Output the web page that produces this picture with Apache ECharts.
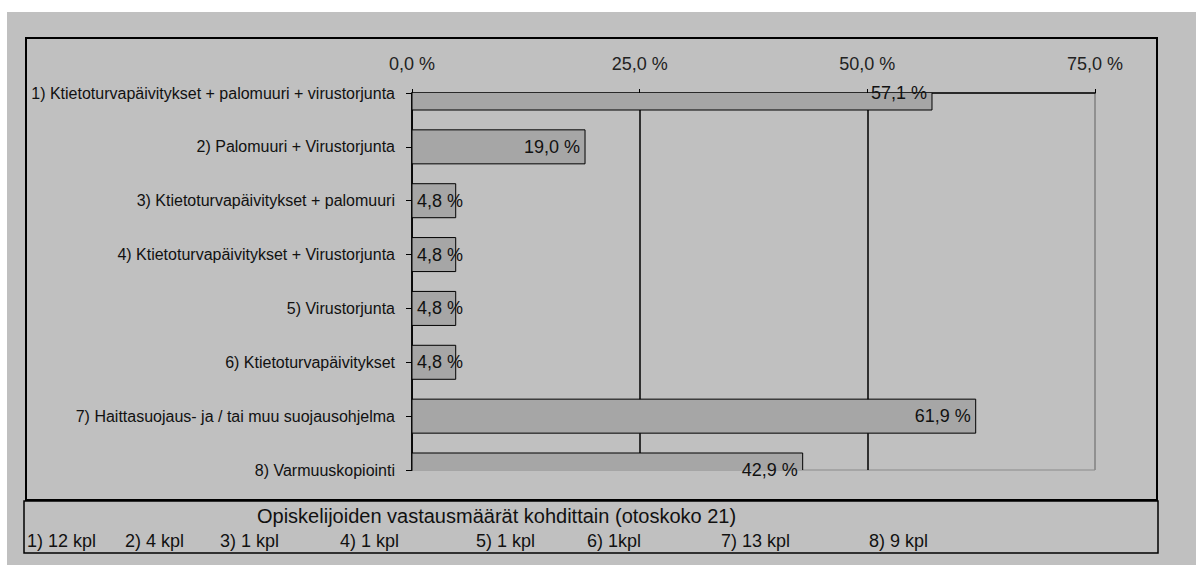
<!DOCTYPE html>
<html>
<head>
<meta charset="utf-8">
<script src="https://cdn.jsdelivr.net/npm/echarts@6/dist/echarts.min.js"></script>
<style>
  html, body { margin: 0; background: #fff; }
  #chart { width: 1196px; height: 565px; }
</style>
</head>
<body>
<div id="chart"></div>
<script>
var categories = [
  '1) Ktietoturvapäivitykset + palomuuri + virustorjunta',
  '2) Palomuuri + Virustorjunta',
  '3) Ktietoturvapäivitykset + palomuuri',
  '4) Ktietoturvapäivitykset + Virustorjunta',
  '5) Virustorjunta',
  '6) Ktietoturvapäivitykset',
  '7) Haittasuojaus- ja / tai muu suojausohjelma',
  '8) Varmuuskopiointi'
];
var percents = [57.1, 19.0, 4.8, 4.8, 4.8, 4.8, 61.9, 42.9];
var xTicks = [0, 25, 50, 75];
var countsTitle = 'Opiskelijoiden vastausmäärät kohdittain (otoskoko 21)';
var counts = ['1) 12 kpl', '2) 4 kpl', '3) 1 kpl', '4) 1 kpl', '5) 1 kpl', '6) 1kpl', '7) 13 kpl', '8) 9 kpl'];

// where each count text starts in the box below the chart
var countX = [27, 125, 220, 340, 476, 587, 721, 869];

var sans = '"Liberation Sans", Arial, sans-serif';
var barH = 34;

function fmt(v) {
  return v.toFixed(1).replace('.', ',') + ' %';
}

var chart = echarts.init(document.getElementById('chart'), null, { renderer: 'svg' });

var graphics = [
  { type: 'rect', z: -10, shape: { x: 7, y: 12, width: 1189, height: 553 }, style: { fill: '#c0c0c0' } },
  { type: 'rect', z: 5, shape: { x: 26, y: 38, width: 1131, height: 462 }, style: { fill: 'none', stroke: '#000', lineWidth: 2 } },
  { type: 'rect', z: 5, shape: { x: 24, y: 501, width: 1134, height: 52 }, style: { fill: 'none', stroke: '#000', lineWidth: 1.5 } },
  { type: 'text', z: 5, x: 257, y: 516, style: { text: countsTitle, font: '20px ' + sans, fill: '#111', verticalAlign: 'middle' } }
];
counts.forEach(function (c, i) {
  graphics.push({ type: 'text', z: 5, x: countX[i], y: 541, style: { text: c, font: '18px ' + sans, fill: '#111', verticalAlign: 'middle' } });
});

chart.setOption({
  animation: false,
  graphic: graphics,
  grid: {
    left: 412, top: 93, right: 101, bottom: 95,
    show: true, borderColor: '#8a8a8a', borderWidth: 1, backgroundColor: 'transparent'
  },
  xAxis: {
    type: 'value',
    position: 'top',
    min: xTicks[0],
    max: xTicks[xTicks.length - 1],
    interval: xTicks[1] - xTicks[0],
    axisLine: { show: true, lineStyle: { color: '#000', width: 1.5 } },
    axisTick: { show: true, length: 4, lineStyle: { color: '#000' } },
    axisLabel: { margin: 20, color: '#222', fontSize: 18, fontFamily: sans, formatter: fmt },
    splitLine: { show: true, lineStyle: { color: ['#000', '#000', '#000', '#8a8a8a'], width: 1.5 } }
  },
  yAxis: {
    type: 'category',
    inverse: true,
    boundaryGap: false,
    data: categories,
    axisLine: { show: true, lineStyle: { color: '#000', width: 1.5 } },
    axisTick: { show: true, length: 6, alignWithLabel: true, lineStyle: { color: '#000' } },
    axisLabel: { margin: 17, color: '#111', fontSize: 16, fontFamily: sans }
  },
  series: [
    {
      // the bars, cut at the plot edges like the original
      type: 'custom',
      clip: true,
      z: 2,
      data: percents.map(function (v, i) { return [v, i]; }),
      encode: { x: 0, y: 1 },
      renderItem: function (params, api) {
        var start = api.coord([0, api.value(1)]);
        var end = api.coord([api.value(0), api.value(1)]);
        return {
          type: 'rect',
          shape: { x: start[0], y: start[1] - barH / 2, width: end[0] - start[0], height: barH },
          style: { fill: '#a6a6a6', stroke: '#000', lineWidth: 1 }
        };
      }
    },
    {
      // labels only
      type: 'bar',
      z: 3,
      barWidth: barH,
      data: percents.map(function (v) {
        return { value: v, label: { position: v < 10 ? 'insideLeft' : 'insideRight' } };
      }),
      itemStyle: { color: 'rgba(0,0,0,0)', borderWidth: 0 },
      label: {
        show: true,
        distance: 5,
        color: '#111',
        fontSize: 18,
        fontFamily: sans,
        formatter: function (p) { return fmt(p.value); }
      }
    }
  ]
});
</script>
</body>
</html>
